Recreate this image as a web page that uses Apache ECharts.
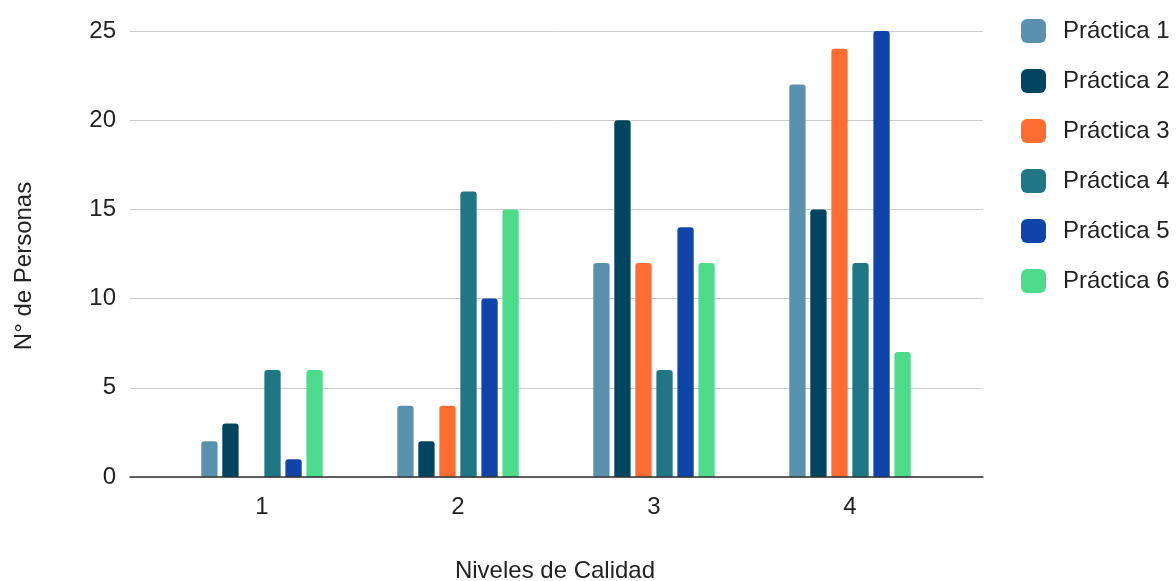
<!DOCTYPE html>
<html>
<head>
<meta charset="utf-8">
<script src="https://cdn.jsdelivr.net/npm/echarts@6/dist/echarts.min.js"></script>
<style>
html,body{margin:0;padding:0;background:#fff;}
#c{width:1176px;height:581px;}
</style>
</head>
<body>
<div id="c"></div>
<script>
const categories = ['1', '2', '3', '4'];
const seriesNames = ['Práctica 1', 'Práctica 2', 'Práctica 3', 'Práctica 4', 'Práctica 5', 'Práctica 6'];
const practica1 = [2, 4, 12, 22];
const practica2 = [3, 2, 20, 15];
const practica3 = [0, 4, 12, 24];
const practica4 = [6, 16, 6, 12];
const practica5 = [1, 10, 14, 25];
const practica6 = [6, 15, 12, 7];
const yTicks = [0, 5, 10, 15, 20, 25];
const colors = ['#5a91af', '#00455f', '#ff6d31', '#1f7684', '#0f44a8', '#4ddc8b'];

const values = [practica1, practica2, practica3, practica4, practica5, practica6];
const FONT = '"Liberation Sans", Arial, sans-serif';

const chart = echarts.init(document.getElementById('c'), null, {renderer: 'canvas'});
chart.setOption({
  animation: false,
  backgroundColor: '#ffffff',
  color: colors,
  textStyle: {fontFamily: FONT},
  grid: [
    {left: 130, right: 193, top: 31, bottom: 104},
    {left: 164, width: 784, top: 31, bottom: 104}
  ],
  xAxis: [
    {gridIndex: 0, type: 'category', data: categories,
     axisLine: {show: true, lineStyle: {color: '#333', width: 1.5}},
     axisTick: {show: false}, axisLabel: {show: false}, splitLine: {show: false}, z: 5},
    {gridIndex: 1, type: 'category', data: categories,
     axisLine: {show: false}, axisTick: {show: false},
     axisLabel: {color: '#222', fontSize: 24, margin: 18, fontFamily: FONT}}
  ],
  yAxis: [
    {gridIndex: 0, type: 'value', min: yTicks[0], max: yTicks[yTicks.length - 1], interval: 5,
     axisLine: {show: false}, axisTick: {show: false},
     axisLabel: {color: '#222', fontSize: 24, margin: 14, fontFamily: FONT},
     splitLine: {lineStyle: {color: '#cccccc', width: 1}}},
    {gridIndex: 1, type: 'value', min: yTicks[0], max: yTicks[yTicks.length - 1], interval: 5,
     show: false, splitLine: {show: false}}
  ],
  legend: {
    orient: 'vertical', left: 1021, top: 19, padding: 0,
    itemWidth: 25, itemHeight: 24, itemGap: 26, icon: 'roundRect',
    textStyle: {fontSize: 24, color: '#222', fontFamily: FONT, padding: [0, 0, 0, 12]},
    data: seriesNames
  },
  graphic: [
    {type: 'text', silent: true, x: 0, y: 0,
     style: {text: 'Niveles de Calidad', x: 555, y: 571, align: 'center', verticalAlign: 'middle',
             font: '24px ' + FONT, fill: '#222'}},
    {type: 'text', silent: true, x: 24, y: 266, rotation: Math.PI / 2,
     style: {text: 'N° de Personas', x: 0, y: 0, align: 'center', verticalAlign: 'middle',
             font: '24px ' + FONT, fill: '#222'}}
  ],
  series: seriesNames.map((name, i) => ({
    name: name, type: 'bar', xAxisIndex: 1, yAxisIndex: 1,
    data: values[i], barWidth: 16.3, barGap: '29%',
    itemStyle: {color: colors[i], borderRadius: [3, 3, 0, 0]}
  }))
});
</script>
</body>
</html>
